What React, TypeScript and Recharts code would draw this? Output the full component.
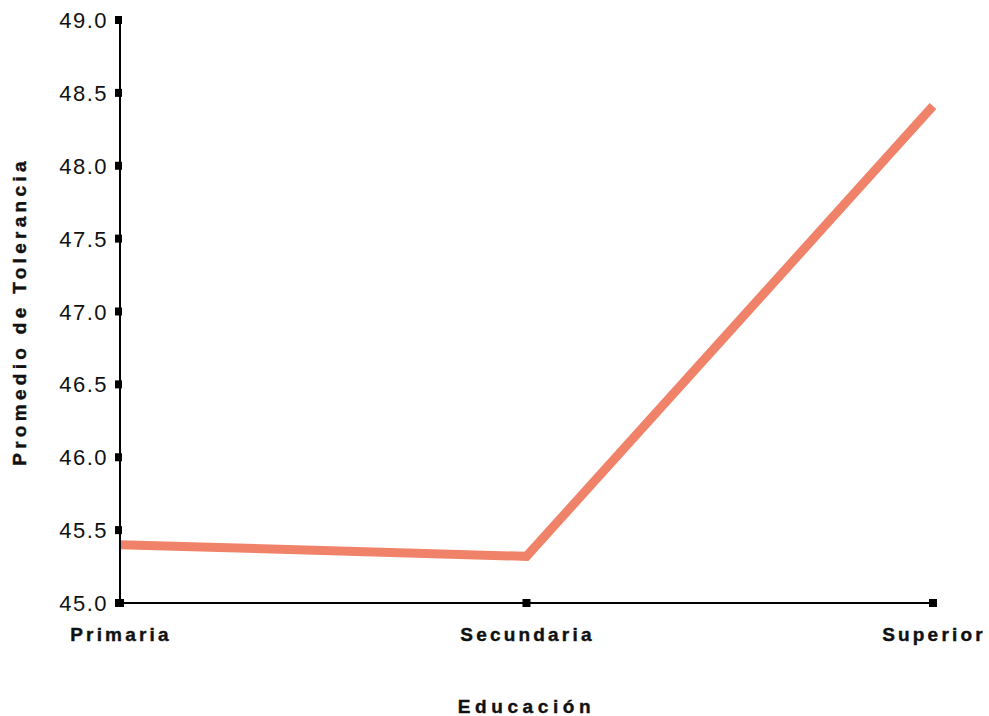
import { LineChart, Line, XAxis, YAxis } from 'recharts';

const niveles = ['Primaria', 'Secundaria', 'Superior'];
const promedios = [45.4, 45.32, 48.41];
const yTicks = [45.0, 45.5, 46.0, 46.5, 47.0, 47.5, 48.0, 48.5, 49.0];

const data = niveles.map((n, i) => ({ nivel: n, valor: promedios[i] }));

const FONT = '"Liberation Sans", Arial, sans-serif';

const YTick = (props: any) => {
  const { x, y, payload } = props;
  return (
    <g>
      <rect x={x - 5} y={y - 4} width={7} height={8} fill="#000" />
      <text x={x - 12} y={y + 8} textAnchor="end" fontSize={22} letterSpacing={1.5} fill="#111" fontFamily={FONT}>
        {Number(payload.value).toFixed(1)}
      </text>
    </g>
  );
};

const XTick = (props: any) => {
  const { x, y, payload } = props;
  return (
    <g>
      <rect x={x - 4} y={y - 4} width={8} height={8} fill="#000" />
      <text x={x + 1} y={y + 38} textAnchor="middle" fontSize={19} fontWeight="bold" letterSpacing={3.2} fill="#111" stroke="#111" strokeWidth={0.4} fontFamily={FONT}>
        {payload.value}
      </text>
    </g>
  );
};

export default function App() {
  return (
    <div style={{ position: 'absolute', left: 0, top: 0, background: '#fff' }}>
      <LineChart width={989} height={716} data={data} margin={{ top: 20, right: 56, bottom: 0, left: 0 }}>
        <XAxis
          dataKey="nivel"
          height={113}
          stroke="#000"
          strokeWidth={2}
          tickLine={false}
          tickSize={0}
          tickMargin={0}
          padding={{ left: 0, right: 0 }}
          tick={<XTick />}
          interval={0}
          label={{ value: 'Educación', position: 'insideBottom', offset: 3, fontSize: 19, fontWeight: 'bold', letterSpacing: 4.6, fill: '#111', stroke: '#111', strokeWidth: 0.4, fontFamily: FONT }}
        />
        <YAxis
          width={120}
          domain={[45, 49]}
          ticks={yTicks}
          stroke="#000"
          strokeWidth={2}
          tickLine={false}
          tickSize={0}
          tickMargin={0}
          tick={<YTick />}
          interval={0}
          label={{ value: 'Promedio de Tolerancia', angle: -90, position: 'insideLeft', offset: 19, fontSize: 19, fontWeight: 'bold', letterSpacing: 4.3, fill: '#111', stroke: '#111', strokeWidth: 0.4, fontFamily: FONT, style: { textAnchor: 'middle' } }}
        />
        <Line
          type="linear"
          dataKey="valor"
          stroke="#f0826a"
          strokeWidth={9}
          dot={false}
          activeDot={false}
          isAnimationActive={false}
        />
      </LineChart>
    </div>
  );
}
